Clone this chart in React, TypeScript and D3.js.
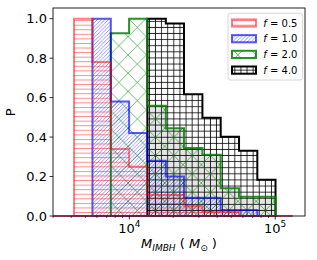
import React from "react";
import * as d3 from "d3";

// histogram bin edges (M_sun) and normalised P per bin
const binEdges = [4180, 5590, 7470, 9970, 13300, 17800, 23700, 31700, 42300, 56500, 75400, 100500];
const pF05 = [1.0, 0.78, 0.34, 0.25, 0.107, 0.107, 0.051, 0.022, 0.022, 0, 0];
const pF10 = [0, 1.0, 0.58, 0.42, 0.28, 0.2, 0.093, 0.093, 0.03, 0.03, 0];
const pF20 = [0, 0, 0.926, 1.0, 0.559, 0.445, 0.345, 0.31, 0.14, 0.097, 0.097];
const pF40 = [0, 0, 0, 0, 1.0, 0.976, 0.617, 0.498, 0.402, 0.331, 0.184];
const fLabels = ["0.5", "1.0", "2.0", "4.0"];
const yTicks = [0, 0.2, 0.4, 0.6, 0.8, 1.0];
const xMajor = [1e4, 1e5];
const xMajorExp = ["4", "5"];
const xLimits = [3000, 160000];
const yLimits = [0, 1.05];
const baselineExtent = [3000, 132000];

const W = 317;
const H = 260;
const left = 53;
const right = 305;
const top = 8.8;
const bottom = 216;
const font = "DejaVu Sans, sans-serif";

const x = d3.scaleLog().domain(xLimits).range([left, right]);
const y = d3.scaleLinear().domain(yLimits).range([bottom, top]);

function stepPath(vals: number[]) {
  const first = vals.findIndex((v) => v > 0);
  let last = vals.length - 1;
  while (last > 0 && vals[last] <= 0) last--;
  const pts: [number, number][] = [[x(binEdges[first]), y(0)]];
  for (let i = first; i <= last; i++) {
    pts.push([x(binEdges[i]), y(vals[i])]);
    pts.push([x(binEdges[i + 1]), y(vals[i])]);
  }
  pts.push([x(binEdges[last + 1]), y(0)]);
  return d3.line()(pts) + "Z";
}

const series = [
  { vals: pF40, label: fLabels[3], hatch: "hatchBlack", edge: "#000000" },
  { vals: pF20, label: fLabels[2], hatch: "hatchGreen", edge: "rgba(0,128,0,0.85)" },
  { vals: pF10, label: fLabels[1], hatch: "hatchBlue", edge: "rgba(0,0,255,0.65)" },
  { vals: pF05, label: fLabels[0], hatch: "hatchRed", edge: "rgba(255,0,0,0.5)" },
];

export default function App() {
  const minor: number[] = [];
  for (const dec of [1e3, 1e4, 1e5]) {
    for (let m = 2; m <= 9; m++) {
      const v = m * dec;
      if (v >= xLimits[0] && v <= xLimits[1]) minor.push(v);
    }
  }
  const legendOrder = [...series].reverse();
  const blackPath = stepPath(pF40);
  const greenPath = stepPath(pF20);

  return (
    <svg
      width={W}
      height={H}
      style={{ position: "absolute", left: 0, top: 0, background: "#fff" }}
      fontFamily={font}
    >
      <defs>
        <pattern id="hatchRed" patternUnits="userSpaceOnUse" width={10} height={4.57}>
          <line x1={0} x2={10} y1={2.3} y2={2.3} stroke="rgba(255,0,0,0.45)" strokeWidth={1} />
        </pattern>
        <pattern id="hatchBlue" patternUnits="userSpaceOnUse" width={3.66} height={3.66}>
          <path
            d="M0,3.66L3.66,0M-1,1L1,-1M2.66,4.66L4.66,2.66"
            stroke="rgba(0,0,255,0.55)"
            strokeWidth={0.75}
          />
        </pattern>
        <pattern id="hatchGreen" patternUnits="userSpaceOnUse" width={18.3} height={18.3}>
          <path d="M0,0L18.3,18.3M0,18.3L18.3,0" stroke="rgba(0,140,0,0.65)" strokeWidth={0.9} />
        </pattern>
        <pattern id="hatchBlack" patternUnits="userSpaceOnUse" width={6.1} height={6.1}>
          <path d="M0,3H6.1M3,0V6.1" stroke="#000" strokeWidth={0.8} />
        </pattern>
        <clipPath id="clipBlack">
          <path d={blackPath} />
        </clipPath>
      </defs>

      {/* grey where the f=4 and f=2 histograms overlap */}
      <path d={greenPath} fill="rgba(0,0,0,0.1)" clipPath="url(#clipBlack)" />

      {series.map((s) => (
        <g key={s.label}>
          <path d={stepPath(s.vals)} fill={`url(#${s.hatch})`} stroke="none" />
          <path d={stepPath(s.vals)} fill="none" stroke={s.edge} strokeWidth={2} strokeLinejoin="miter" />
        </g>
      ))}

      {/* spines */}
      <rect x={left} y={8} width={right - left} height={bottom - 8} fill="none" stroke="#222" strokeWidth={1} />
      <line
        x1={x(baselineExtent[0])}
        x2={x(baselineExtent[1])}
        y1={bottom}
        y2={bottom}
        stroke="#7a1a3a"
        strokeWidth={1.5}
      />

      {/* y axis */}
      {yTicks.map((t) => (
        <g key={t}>
          <line x1={left - 3.5} x2={left} y1={y(t)} y2={y(t)} stroke="#000" strokeWidth={0.8} />
          <text x={left - 6} y={y(t) + 4.6} fontSize={13} textAnchor="end">
            {t.toFixed(1)}
          </text>
        </g>
      ))}
      <text transform={`translate(15,${(top + bottom) / 2}) rotate(-90)`} fontSize={13} textAnchor="middle">
        P
      </text>

      {/* x axis */}
      {minor.map((t) => (
        <line key={t} x1={x(t)} x2={x(t)} y1={bottom} y2={bottom + 2} stroke="#000" strokeWidth={0.6} />
      ))}
      {xMajor.map((t, i) => (
        <g key={t}>
          <line x1={x(t)} x2={x(t)} y1={bottom} y2={bottom + 3.5} stroke="#000" strokeWidth={0.8} />
          <text x={x(t)} y={232.7} fontSize={13} textAnchor="middle">
            10
            <tspan fontSize={9} dy={-6}>
              {xMajorExp[i]}
            </tspan>
          </text>
        </g>
      ))}
      <text x={(left + right) / 2} y={248} fontSize={13} textAnchor="middle">
        <tspan fontStyle="italic">M</tspan>
        <tspan fontStyle="italic" fontSize={9} dy={3}>
          IMBH
        </tspan>
        <tspan dy={-3}> ( </tspan>
        <tspan fontStyle="italic">M</tspan>
        <tspan fontSize={9} dy={3}>
          ⊙
        </tspan>
        <tspan dy={-3}> )</tspan>
      </text>

      {/* legend */}
      <rect x={228} y={13.3} width={74.7} height={66.7} rx={2.5} fill="rgba(255,255,255,0.8)" stroke="#ccc" strokeWidth={0.8} />
      {legendOrder.map((s, i) => {
        const cy = 23 + i * 15.7;
        return (
          <g key={s.label}>
            <rect x={232} y={cy - 3.6} width={24} height={7.2} fill={`url(#${s.hatch})`} stroke={s.edge} strokeWidth={2} />
            <text x={263.3} y={cy + 3.6} fontSize={10}>
              <tspan fontStyle="italic">f</tspan> = {s.label}
            </text>
          </g>
        );
      })}
    </svg>
  );
}
